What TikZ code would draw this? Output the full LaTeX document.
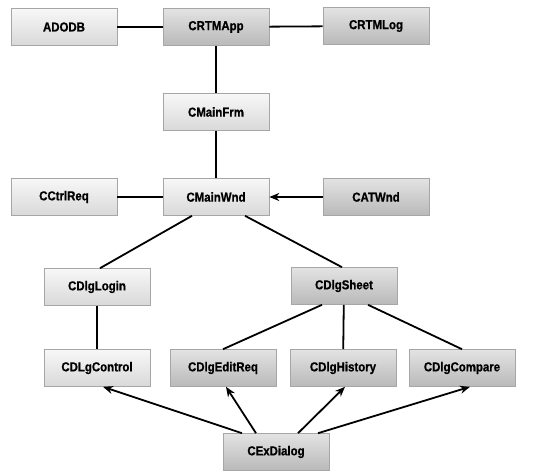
\documentclass[tikz,border=0pt]{standalone}
\usepackage{fontspec}
\newfontfamily\boxfont[FakeStretch=0.88, BoldFeatures={FakeBold=0.8}]{Liberation Sans}
\usetikzlibrary{arrows.meta}

\begin{document}
\begin{tikzpicture}[x=1pt,y=-1pt,
    cls/.style={draw=gray!70, line width=0.6pt, minimum width=106pt, minimum height=37pt,
        top color=gray!6, bottom color=gray!30, font=\boxfont\bfseries\fontsize{13}{15}\selectfont},
    clsdark/.style={cls, top color=gray!22, bottom color=gray!55},
    link/.style={line width=1.8pt},
    uses/.style={link, -{Stealth[length=10pt,width=8pt]}}]
    \useasboundingbox (0,0) rectangle (545,473);

    \node[cls] (adodb) at (64,27) {ADODB};
    \node[clsdark] (app) at (216,27) {CRTMApp};
    \node[clsdark] (log) at (376,26) {CRTMLog};
    \node[cls] (frm) at (216,112) {CMainFrm};
    \node[cls] (req) at (64,197) {CCtrlReq};
    \node[cls] (wnd) at (216,197) {CMainWnd};
    \node[clsdark] (atw) at (376,197) {CATWnd};
    \node[cls] (login) at (97,287) {CDlgLogin};
    \node[clsdark] (sheet) at (344,286) {CDlgSheet};
    \node[cls] (ctl) at (97,368) {CDLgControl};
    \node[clsdark] (edit) at (223,368) {CDlgEditReq};
    \node[clsdark] (hist) at (343,368) {CDlgHistory};
    \node[clsdark] (cmp) at (462,368) {CDlgCompare};
    \node[clsdark] (exd) at (276,452) {CExDialog};

    \draw[link] (adodb) -- (app);
    \draw[link] (app) -- (log);
    \draw[link] (app) -- (frm);
    \draw[link] (frm) -- (wnd);
    \draw[link] (req) -- (wnd);
    \draw[uses] (atw) -- (wnd);

    \draw[link] ([xshift=-24pt]wnd.south) -- ([xshift=3pt]login.north);
    \draw[link] ([xshift=29pt]wnd.south) -- ([xshift=-2pt]sheet.north);
    \draw[link] (login) -- (ctl);

    \draw[link] ([xshift=-22pt]sheet.south) -- (edit.north);
    \draw[link] (sheet) -- (hist);
    \draw[link] ([xshift=24pt]sheet.south) -- (cmp.north);

    \draw[uses] ([xshift=-34pt]exd.north) -- ([xshift=6pt]ctl.south);
    \draw[uses] ([xshift=-20pt]exd.north) -- ([xshift=3pt]edit.south);
    \draw[uses] ([xshift=22pt]exd.north) -- ([xshift=2pt]hist.south);
    \draw[uses] ([xshift=42pt]exd.north) -- ([xshift=8pt]cmp.south);
\end{tikzpicture}
\end{document}
